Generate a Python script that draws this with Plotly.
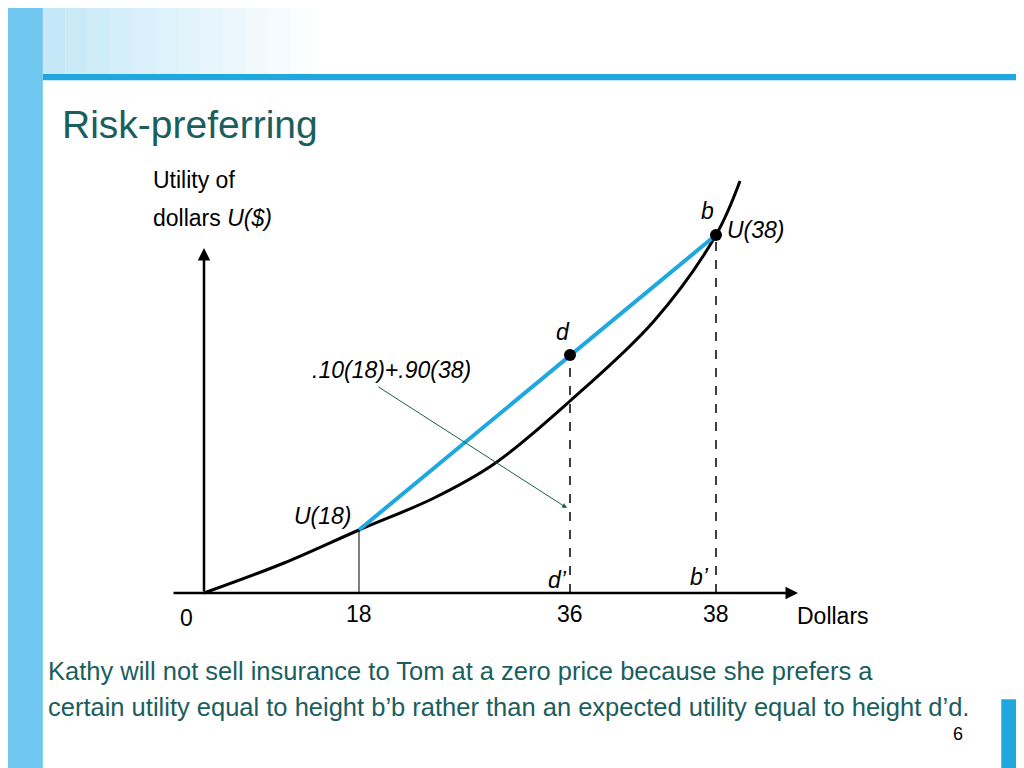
import plotly.graph_objects as go

# schematic coordinates (horizontal = dollar position on drawing, vertical = utility height)
curve_x = [0, 80, 155, 230, 290, 366, 450, 512, 536]
curve_y = [0, 30, 63, 95, 129, 192, 272, 358, 412]
u18 = (155, 63)
u38 = (512, 358)
pt_d = (366, 238)
tick_pos = [155, 366, 512]
tick_labels = ["18", "36", "38"]

OX, OY = 204, 577
def P(px, py):
    return px - OX, OY - py

fig = go.Figure()
# background decorations
for i in range(12):
    fig.add_shape(type="rect", xref="paper", yref="paper", x0=0.034 + i*0.022, x1=0.034 + (i+1)*0.022,
                  y0=0.91, y1=1.01, fillcolor="#bfe6f7", opacity=0.9 - i*0.075, line_width=0, layer="below")
fig.add_shape(type="rect", xref="paper", yref="paper", x0=-0.01, x1=0.034, y0=-0.01, y1=1.01,
              fillcolor="#6fc6ee", line_width=0, layer="below")
fig.add_shape(type="rect", xref="paper", yref="paper", x0=0.034, x1=1.01, y0=0.906, y1=0.914,
              fillcolor="#1fa8e0", line_width=0, layer="below")
fig.add_shape(type="rect", xref="paper", yref="paper", x0=0.97, x1=1.01, y0=-0.01, y1=0.1,
              fillcolor="#1fa8e0", line_width=0, layer="below")

# axes
fig.add_annotation(x=0, y=OY-232, ax=0, ay=0, axref="x", ayref="y", showarrow=True,
                   arrowhead=2, arrowwidth=2.5, arrowcolor="black", text="")
fig.add_annotation(x=798-OX, y=0, ax=172-OX, ay=0, axref="x", ayref="y", showarrow=True,
                   arrowhead=2, arrowwidth=2.5, arrowcolor="black", text="")

fig.add_trace(go.Scatter(x=curve_x, y=curve_y, mode="lines", line=dict(color="black", width=3, shape="spline")))
fig.add_trace(go.Scatter(x=[u18[0], u38[0]], y=[u18[1], u38[1]], mode="lines", line=dict(color="#1fa8e0", width=4)))
fig.add_trace(go.Scatter(x=[u18[0], u18[0]], y=[0, u18[1]], mode="lines", line=dict(color="black", width=1)))
fig.add_trace(go.Scatter(x=[pt_d[0], pt_d[0]], y=[0, pt_d[1]], mode="lines", line=dict(color="black", width=1.5, dash="dash")))
fig.add_trace(go.Scatter(x=[u38[0], u38[0]], y=[0, u38[1]], mode="lines", line=dict(color="black", width=1.5, dash="dash")))
fig.add_trace(go.Scatter(x=[pt_d[0], u38[0]], y=[pt_d[1], u38[1]], mode="markers", marker=dict(color="black", size=12)))

fig.add_annotation(x=567-OX, y=OY-492, ax=377-OX, ay=OY-370, axref="x", ayref="y", showarrow=True,
                   arrowhead=2, arrowwidth=1, arrowcolor="#1a5e4a", text="")

def txt(px, py, s, size=23, color="black", anchor="left", italic=False, font="Arial"):
    x, y = P(px, py)
    fig.add_annotation(x=x, y=y, text=f"<i>{s}</i>" if italic else s, showarrow=False, xanchor=anchor,
                       font=dict(size=size, color=color, family=font))

txt(60, 108, "Risk-preferring", 39, "#1a5e5e")
txt(151, 164, "Utility of", 23)
txt(151, 202, "dollars <i>U($)</i>", 23)
txt(699, 195, "b", 23, italic=True)
txt(725, 214, "U(38)", 23, italic=True)
txt(554, 316, "d", 23, italic=True)
txt(310, 354, ".10(18)+.90(38)", 23, italic=True)
txt(292, 500, "U(18)", 23, italic=True)
txt(546, 564, "d’", 23, italic=True)
txt(688, 561, "b’", 23, italic=True)
txt(178, 602, "0", 23)
for p, lab in zip(tick_pos, tick_labels):
    txt(p + OX, 598, lab, 23, anchor="center")
txt(795, 600, "Dollars", 23)
txt(46, 655, "Kathy will not sell insurance to Tom at a zero price because she prefers a", 25.5, "#1a5e5e")
txt(46, 691, "certain utility equal to height b’b rather than an expected utility equal to height d’d.", 25.5, "#1a5e5e")
txt(951, 718, "6", 18)

fig.update_layout(width=1024, height=768, margin=dict(l=0, r=0, t=0, b=0), showlegend=False,
                  plot_bgcolor="white", paper_bgcolor="white",
                  xaxis=dict(range=[8-OX, 1032-OX], visible=False, fixedrange=True),
                  yaxis=dict(range=[OY+8-768, OY+8], visible=False, fixedrange=True))
fig.write_html("out.html")
